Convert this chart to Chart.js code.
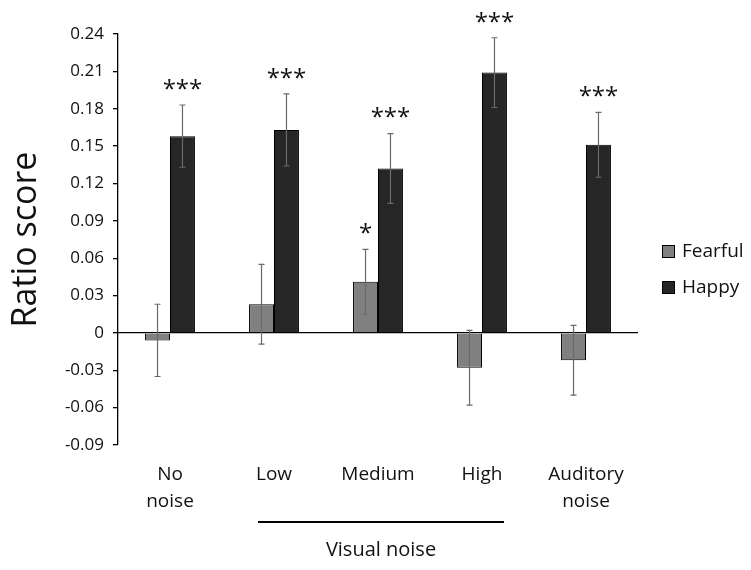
<!DOCTYPE html>
<html>
<head>
<meta charset="utf-8">
<script src="https://cdn.jsdelivr.net/npm/chart.js@4/dist/chart.umd.min.js"></script>
<style>
html,body{margin:0;padding:0;background:#fff;}
#wrap{width:751px;height:570px;position:relative;}
</style>
</head>
<body>
<div id="wrap"><canvas id="c" width="751" height="570"></canvas></div>
<script>
const categories = [['No', 'noise'], 'Low', 'Medium', 'High', ['Auditory', 'noise']];
const seriesNames = ['Fearful', 'Happy'];
const fearful = [-0.006, 0.023, 0.041, -0.028, -0.022];
const fearfulErr = [0.029, 0.032, 0.026, 0.030, 0.028];
const happy = [0.158, 0.163, 0.132, 0.209, 0.151];
const happyErr = [0.025, 0.029, 0.028, 0.028, 0.026];
const fearfulSig = ['', '', '*', '', ''];
const happySig = ['***', '***', '***', '***', '***'];
const yMin = -0.09, yMax = 0.24, yStep = 0.03;
const yTitle = 'Ratio score';
const groupLabel = 'Visual noise';
const groupRange = [1, 3];

const FONT = '"Open Sans", "Noto Sans", sans-serif';
const colors = ['#808080', '#262626'];
const errs = [fearfulErr, happyErr];
const sigs = [fearfulSig, happySig];

const extras = {
  id: 'extras',
  afterDatasetsDraw(chart) {
    const ctx = chart.ctx;
    const y = chart.scales.y;
    ctx.save();
    chart.data.datasets.forEach((ds, di) => {
      const meta = chart.getDatasetMeta(di);
      meta.data.forEach((bar, i) => {
        const v = ds.data[i], e = errs[di][i];
        const x = bar.x;
        const yt = y.getPixelForValue(v + e), yb = y.getPixelForValue(v - e);
        ctx.strokeStyle = '#6a6a6a';
        ctx.lineWidth = 1.2;
        ctx.beginPath();
        ctx.moveTo(x, yt); ctx.lineTo(x, yb);
        ctx.moveTo(x - 3, yt); ctx.lineTo(x + 3, yt);
        ctx.moveTo(x - 3, yb); ctx.lineTo(x + 3, yb);
        ctx.stroke();
        const s = sigs[di][i];
        if (s) {
          ctx.fillStyle = '#111';
          ctx.font = '24px ' + FONT;
          ctx.textAlign = 'center';
          ctx.textBaseline = 'middle';
          ctx.fillText(s, x, yt - 15);
        }
      });
    });
    // legend
    const lx = 662, ly0 = 251, gap = 36;
    ctx.font = '19px ' + FONT;
    ctx.textAlign = 'left';
    ctx.textBaseline = 'middle';
    chart.data.datasets.forEach((ds, di) => {
      const yy = ly0 + di * gap;
      ctx.fillStyle = ds.backgroundColor;
      ctx.fillRect(lx, yy - 6, 13, 13);
      ctx.strokeStyle = '#000';
      ctx.lineWidth = 1;
      ctx.strokeRect(lx + 0.5, yy - 5.5, 12, 12);
      ctx.fillStyle = '#111';
      ctx.fillText(ds.label, lx + 20, yy + 1);
    });
    // group line
    const xs = chart.scales.x;
    const gx0 = xs.getPixelForValue(groupRange[0]) - 16;
    const gx1 = xs.getPixelForValue(groupRange[1]) + 22;
    ctx.strokeStyle = '#000';
    ctx.lineWidth = 2;
    ctx.beginPath();
    ctx.moveTo(gx0, 522); ctx.lineTo(gx1, 522);
    ctx.stroke();
    ctx.fillStyle = '#111';
    ctx.font = '20px ' + FONT;
    ctx.textAlign = 'center';
    ctx.fillText(groupLabel, (gx0 + gx1) / 2, 550);
    ctx.restore();
  }
};

new Chart(document.getElementById('c'), {
  type: 'bar',
  data: {
    labels: categories,
    datasets: [
      { label: seriesNames[0], data: fearful, backgroundColor: colors[0], borderColor: '#000', borderWidth: 1 },
      { label: seriesNames[1], data: happy, backgroundColor: colors[1], borderColor: '#000', borderWidth: 1 }
    ]
  },
  options: {
    responsive: false,
    animation: false,
    events: [],
    layout: { padding: { top: 34, right: 113, left: 6, bottom: 0 } },
    categoryPercentage: 0.48,
    barPercentage: 1.0,
    plugins: { legend: { display: false }, tooltip: { enabled: false } },
    scales: {
      x: {
        grid: { display: false, drawTicks: false },
        border: { display: false },
        ticks: { color: '#111', font: { family: FONT, size: 19, lineHeight: 1.42 }, padding: 16, maxRotation: 0, autoSkip: false },
        afterFit(s) { s.height = 125; }
      },
      y: {
        min: yMin, max: yMax,
        afterBuildTicks(s) {
          const t = [];
          for (let k = 0; k <= Math.round((yMax - yMin) / yStep); k++) t.push({ value: +(yMin + k * yStep).toFixed(2) });
          s.ticks = t;
        },
        ticks: {
          color: '#111', font: { family: FONT, size: 17 }, padding: 9,
          callback: v => Math.abs(v) < 1e-9 ? '0' : Number(v).toFixed(2)
        },
        grid: {
          color: c => (c.tick && Math.abs(c.tick.value) < 1e-9) ? '#000' : 'rgba(0,0,0,0)',
          tickColor: '#000', tickLength: 5, lineWidth: 1.3
        },
        border: { display: true, color: '#000', width: 1.3 },
        title: { display: true, text: yTitle, color: '#111', font: { family: FONT, size: 34 }, padding: { top: 0, bottom: 0 } },
        afterFit(s) { s.width = 112; }
      }
    }
  },
  plugins: [extras]
});
</script>
</body>
</html>
